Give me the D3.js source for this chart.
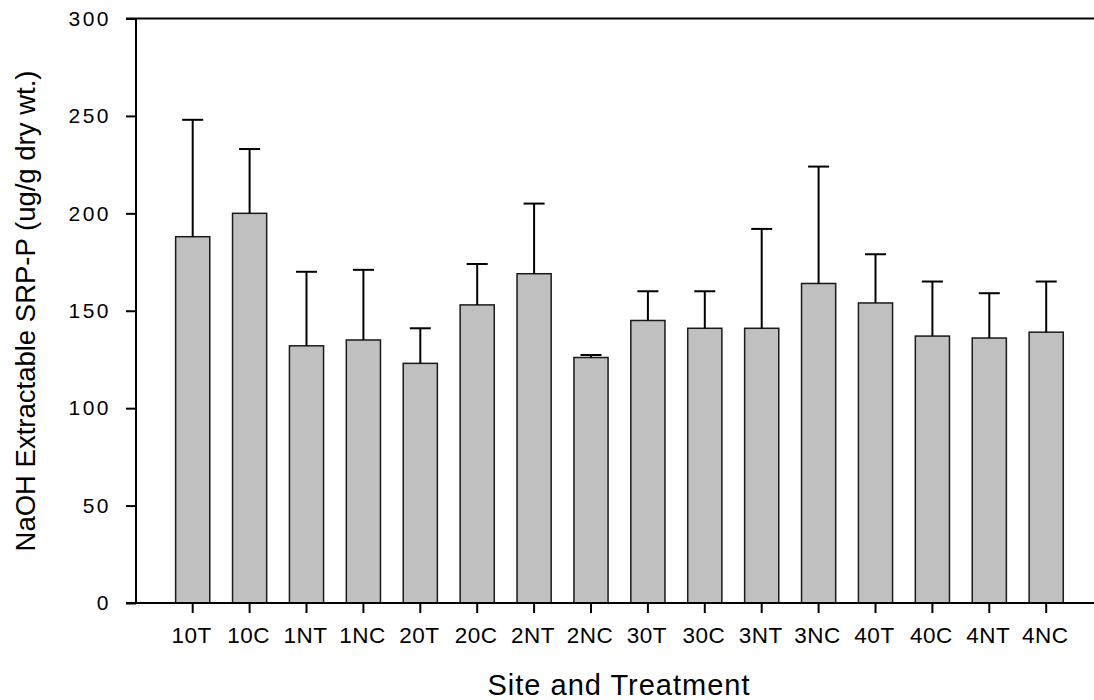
<!DOCTYPE html>
<html>
<head>
<meta charset="utf-8">
<script src="https://cdn.jsdelivr.net/npm/d3@7"></script>
<style>
  body { margin: 0; background: #fff; }
  svg { display: block; font-family: "Liberation Sans", Arial, sans-serif; }
</style>
</head>
<body>
<svg id="svg"></svg>
<script>
// data
const sites = ["10T", "10C", "1NT", "1NC", "20T", "20C", "2NT", "2NC",
               "30T", "30C", "3NT", "3NC", "40T", "40C", "4NT", "4NC"];
const means = [188, 200, 132, 135, 123, 153, 169, 126, 145, 141, 141, 164, 154, 137, 136, 139];
const errors = [60, 33, 38, 36, 18, 21, 36, 1.3, 15, 19, 51, 60, 25, 28, 23, 26];
const yTicks = [0, 50, 100, 150, 200, 250, 300];

const width = 1094;
const height = 700;

// plot frame
const plotLeft = 136;
const plotRight = 1094;
const plotTop = 18.5;
const plotBottom = 603;

let svg = d3.select("#svg")
    .attr("width", width)
    .attr("height", height);

const data = sites.map((s, i) => ({ site: s, mean: means[i], err: errors[i] }));

let xScale = d3.scaleBand()
    .domain(sites)
    .range([164.25, 1074.65])
    .paddingInner(0.4)
    .paddingOuter(0.2);

let yScale = d3.scaleLinear()
    .domain([0, 300])
    .range([plotBottom, plotTop]);

// bars
svg.selectAll(".bar")
    .data(data)
    .enter().append("rect")
    .attr("class", "bar")
    .attr("x", d => xScale(d.site))
    .attr("y", d => yScale(d.mean))
    .attr("width", xScale.bandwidth())
    .attr("height", d => yScale(0) - yScale(d.mean))
    .attr("fill", "#c0c0c0")
    .attr("stroke", "#1a1a1a")
    .attr("stroke-width", 1.5);

// upper error bars only
const cx = d => xScale(d.site) + xScale.bandwidth() / 2;
svg.selectAll(".err")
    .data(data)
    .enter().append("line")
    .attr("class", "err")
    .attr("x1", cx)
    .attr("x2", cx)
    .attr("y1", d => yScale(d.mean))
    .attr("y2", d => yScale(d.mean + d.err))
    .attr("stroke", "#000")
    .attr("stroke-width", 2);

svg.selectAll(".cap")
    .data(data)
    .enter().append("line")
    .attr("class", "cap")
    .attr("x1", d => cx(d) - 10.5)
    .attr("x2", d => cx(d) + 10.5)
    .attr("y1", d => yScale(d.mean + d.err))
    .attr("y2", d => yScale(d.mean + d.err))
    .attr("stroke", "#000")
    .attr("stroke-width", 2);

// y axis
const yAxis = svg.append("g")
    .attr("transform", `translate(${plotLeft},0)`)
    .call(d3.axisLeft(yScale).tickValues(yTicks).tickSize(10).tickPadding(15).tickSizeOuter(0));
yAxis.select(".domain").remove();
yAxis.selectAll(".tick line").attr("stroke", "#000").attr("stroke-width", 2);
yAxis.selectAll(".tick text")
    .attr("fill", "#000")
    .style("font-size", "21px")
    .style("letter-spacing", "2.5px");

// x axis
const xAxis = svg.append("g")
    .attr("transform", `translate(0,${plotBottom})`)
    .call(d3.axisBottom(xScale).tickSize(10).tickSizeOuter(0));
xAxis.select(".domain").remove();
xAxis.selectAll(".tick line").attr("stroke", "#000").attr("stroke-width", 2);
xAxis.selectAll(".tick text")
    .attr("fill", "#000")
    .attr("y", 40)
    .attr("dy", 0)
    .attr("dx", -1)
    .style("font-size", "22.5px")
    .style("letter-spacing", "0.5px");

// frame lines: left, bottom, top
svg.append("line")
    .attr("x1", plotLeft).attr("x2", plotLeft)
    .attr("y1", plotTop).attr("y2", plotBottom)
    .attr("stroke", "#000").attr("stroke-width", 2);
svg.append("line")
    .attr("x1", 126).attr("x2", plotRight)
    .attr("y1", plotBottom).attr("y2", plotBottom)
    .attr("stroke", "#000").attr("stroke-width", 2);
svg.append("line")
    .attr("x1", 126).attr("x2", plotRight)
    .attr("y1", plotTop).attr("y2", plotTop)
    .attr("stroke", "#000").attr("stroke-width", 2);

// axis titles
svg.append("text")
    .attr("x", 619)
    .attr("y", 695)
    .attr("text-anchor", "middle")
    .style("font-size", "29px")
    .style("letter-spacing", "1px")
    .text("Site and Treatment");

svg.append("text")
    .attr("transform", "translate(35,311) rotate(-90)")
    .attr("text-anchor", "middle")
    .style("font-size", "27.5px")
    .text("NaOH Extractable SRP-P (ug/g dry wt.)");
</script>
</body>
</html>
